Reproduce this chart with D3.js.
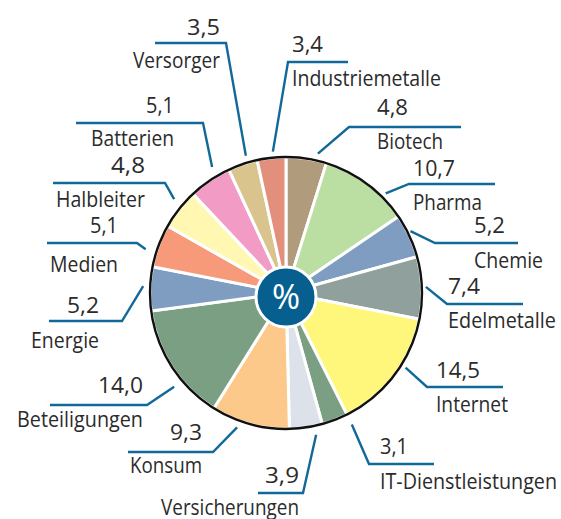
<!DOCTYPE html>
<html>
<head>
<meta charset="utf-8">
<script src="https://cdn.jsdelivr.net/npm/d3@7"></script>
<style>
  html, body { margin: 0; padding: 0; background: #ffffff; }
  svg { display: block; }
  text { font-family: "Open Sans", "Noto Sans", sans-serif; fill: #2b2b2b; }
</style>
</head>
<body>
<svg id="chart" width="561" height="519"></svg>
<script>
// ---- data ----
const categories = ["Biotech", "Pharma", "Chemie", "Edelmetalle", "Internet", "IT-Dienstleistungen",
  "Versicherungen", "Konsum", "Beteiligungen", "Energie", "Medien", "Halbleiter", "Batterien",
  "Versorger", "Industriemetalle"];
const values = [4.8, 10.7, 5.2, 7.4, 14.5, 3.1, 3.9, 9.3, 14.0, 5.2, 5.1, 4.8, 5.1, 3.5, 3.4];
const valueLabels = ["4,8", "10,7", "5,2", "7,4", "14,5", "3,1", "3,9", "9,3", "14,0", "5,2", "5,1", "4,8", "5,1", "3,5", "3,4"];
const colors = ["#b09b7c", "#bbdea2", "#7f9dc0", "#8fa09d", "#fff67c", "#7b9f82", "#dde2ea", "#fdc98b",
  "#7b9f82", "#7f9dc0", "#f69a7a", "#fff7b2", "#f29bc5", "#d9c48d", "#e2907b"];

// ---- label layout (annotation placement) ----
// side: "L" = text right-aligned, "R" = left-aligned
// tx: text x, vy: value baseline, ny: name baseline, lx1/lx2/ly: horizontal rule, ang/dist: leader end
const layout = [
  {side:"R", tx:377, vy:115, ny:149, lx1:349, lx2:461, ly:127, ang:12.9, dist:143, vw:31, nw:66},
  {side:"R", tx:413, vy:176, ny:210, lx1:409, lx2:495, ly:184, ang:45, dist:141, vw:42, nw:69},
  {side:"R", tx:474, vy:233, ny:268, lx1:435, lx2:518, ly:243, ang:63.6, dist:139, vw:31, nw:69},
  {side:"R", tx:448, vy:294, ny:328, lx1:447, lx2:523, ly:304, ang:87.5, dist:140, vw:32, nw:108},
  {side:"R", tx:436, vy:378, ny:412, lx1:427, lx2:503, ly:387, ang:122, dist:141, vw:44, nw:72},
  {side:"R", tx:380, vy:454, ny:489, lx1:369, lx2:434, ly:464, ang:153.4, dist:147, vw:28, nw:177},
  {side:"L", tx:299, vy:483, ny:515, lx1:258, lx2:303, ly:493, ang:168, dist:145, vw:34, nw:138},
  {side:"L", tx:202, vy:440, ny:473, lx1:128, lx2:213, ly:452, ang:200, dist:143, vw:32, nw:72},
  {side:"L", tx:143, vy:393, ny:427, lx1:50, lx2:147, ly:405, ang:230, dist:146, vw:45, nw:126},
  {side:"L", tx:99,  vy:313, ny:348, lx1:49, lx2:122, ly:321, ang:272.8, dist:143, vw:32, nw:68},
  {side:"L", tx:118, vy:233, ny:272, lx1:47, lx2:137, ly:243, ang:287.3, dist:147, vw:28, nw:68},
  {side:"L", tx:145, vy:173, ny:207, lx1:53, lx2:165, ly:183, ang:310, dist:146, vw:34, nw:89},
  {side:"L", tx:174, vy:113, ny:146, lx1:76, lx2:203, ly:123, ang:329.6, dist:146, vw:28, nw:83},
  {side:"L", tx:220, vy:35,  ny:68,  lx1:155, lx2:226, ly:43, ang:343.7, dist:143, vw:33, nw:87},
  {side:"R", tx:292, vy:52,  ny:86,  lx1:288, lx2:348, ly:62, ang:354.7, dist:142, vw:31, nw:149}
];

const cx = 286, cy = 293, r = 136;
const svg = d3.select("#chart");
const g = svg.append("g").attr("transform", `translate(${cx},${cy})`);

const pie = d3.pie().sort(null).value(d => d).startAngle(0).endAngle(2 * Math.PI);
const arc = d3.arc().innerRadius(0).outerRadius(r);
const arcs = pie(values);

g.selectAll("path.slice").data(arcs).join("path")
  .attr("class", "slice")
  .attr("d", arc)
  .attr("fill", (d, i) => colors[i])
  .attr("stroke", "#ffffff")
  .attr("stroke-width", 3)
  .attr("stroke-linejoin", "round");

g.append("circle").attr("r", r).attr("fill", "none").attr("stroke", "#111").attr("stroke-width", 2.4);

// centre badge
g.append("circle").attr("cx", 0).attr("cy", 4).attr("r", 30)
  .attr("fill", "#065f8f").attr("stroke", "#ffffff").attr("stroke-width", 3);
g.append("text").attr("x", 0).attr("y", 16).attr("text-anchor", "middle")
  .style("fill", "#ffffff").style("font-size", "34px").style("font-weight", "500")
  .text("%");

// labels
const lineColor = "#11699a";
const lab = svg.append("g");
categories.forEach((name, i) => {
  const L = layout[i];
  const a = L.ang * Math.PI / 180;
  const ex = cx + L.dist * Math.sin(a), ey = cy - L.dist * Math.cos(a);
  const joinX = L.side === "L" ? L.lx2 : L.lx1;
  const farX = L.side === "L" ? L.lx1 : L.lx2;
  lab.append("path")
    .attr("d", `M${farX},${L.ly}L${joinX},${L.ly}L${ex},${ey}`)
    .attr("fill", "none").attr("stroke", lineColor).attr("stroke-width", 2.4);
  const anchor = L.side === "L" ? "end" : "start";
  lab.append("text").attr("x", L.tx).attr("y", L.vy).attr("text-anchor", anchor)
    .style("font-size", "22px")
    .attr("textLength", L.vw).attr("lengthAdjust", "spacingAndGlyphs")
    .text(valueLabels[i]);
  lab.append("text").attr("x", L.tx).attr("y", L.ny).attr("text-anchor", anchor)
    .style("font-size", "21px")
    .attr("textLength", L.nw).attr("lengthAdjust", "spacingAndGlyphs")
    .text(name);
});
</script>
</body>
</html>
